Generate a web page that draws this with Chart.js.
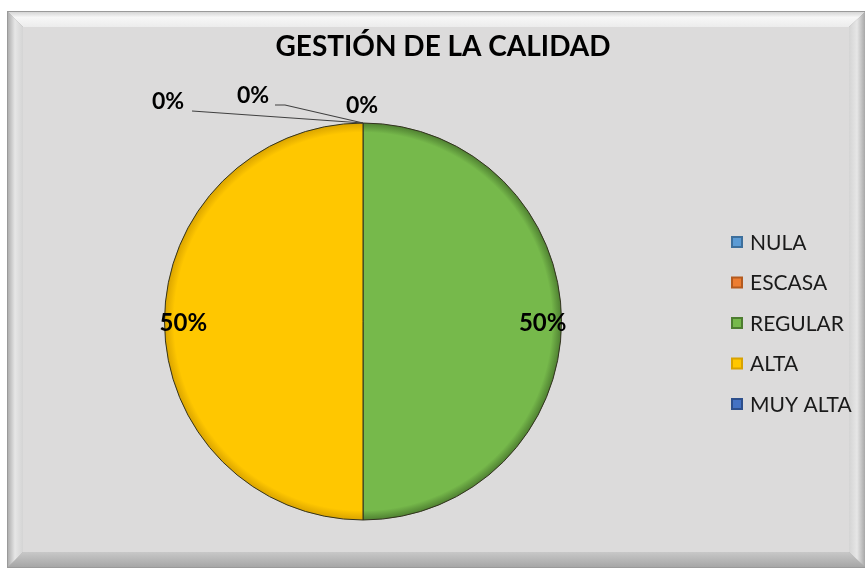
<!DOCTYPE html>
<html>
<head>
<meta charset="utf-8">
<script src="https://cdn.jsdelivr.net/npm/chart.js@4"></script>
<style>
  html, body { margin: 0; padding: 0; background: #fff; }
  #wrap { width: 865px; height: 571px; }
</style>
</head>
<body>
<div id="wrap"><canvas id="pieChart" width="865" height="571"></canvas></div>
<script>
// data
const chartTitle = 'GESTIÓN DE LA CALIDAD';
const categories = ['NULA', 'ESCASA', 'REGULAR', 'ALTA', 'MUY ALTA'];
const values = [0, 0, 50, 50, 0];
const colors = ['#5b9bd5', '#ed7d31', '#76b94b', '#ffc700', '#4472c4'];
const rimColors = ['#3d6f9c', '#b45a1e', '#4d7d30', '#d8a200', '#2d4f8c'];

const FONT = 'Lato, "Open Sans", sans-serif';

// beveled gray panel behind everything
const panelPlugin = {
    id: 'panel',
    beforeDraw(chart) {
        const ctx = chart.ctx;
        const x0 = 7, y0 = 11, x1 = 865, y1 = 568, b = 16;
        ctx.save();
        ctx.fillStyle = '#ffffff';
        ctx.fillRect(0, 0, chart.width, chart.height);
        ctx.fillStyle = '#9a9a9a';
        ctx.fillRect(x0, y0, x1 - x0, y1 - y0);
        // top bevel
        let g = ctx.createLinearGradient(0, y0, 0, y0 + b);
        g.addColorStop(0, '#cfcfcf');
        g.addColorStop(0.4, '#f7f7f7');
        g.addColorStop(1, '#ececec');
        ctx.fillStyle = g;
        ctx.beginPath();
        ctx.moveTo(x0 + 1, y0 + 1); ctx.lineTo(x1, y0 + 1); ctx.lineTo(x1 - b, y0 + b); ctx.lineTo(x0 + b, y0 + b);
        ctx.closePath(); ctx.fill();
        // bottom bevel
        g = ctx.createLinearGradient(0, y1 - b, 0, y1);
        g.addColorStop(0, '#c8c8c8');
        g.addColorStop(1, '#a4a4a4');
        ctx.fillStyle = g;
        ctx.beginPath();
        ctx.moveTo(x0 + 1, y1 - 1); ctx.lineTo(x1, y1 - 1); ctx.lineTo(x1 - b, y1 - b); ctx.lineTo(x0 + b, y1 - b);
        ctx.closePath(); ctx.fill();
        // left bevel
        g = ctx.createLinearGradient(x0, 0, x0 + b, 0);
        g.addColorStop(0, '#a8a8a8');
        g.addColorStop(0.5, '#e6e6e6');
        g.addColorStop(1, '#d4d4d4');
        ctx.fillStyle = g;
        ctx.beginPath();
        ctx.moveTo(x0 + 1, y0 + 1); ctx.lineTo(x0 + b, y0 + b); ctx.lineTo(x0 + b, y1 - b); ctx.lineTo(x0 + 1, y1 - 1);
        ctx.closePath(); ctx.fill();
        // right bevel
        g = ctx.createLinearGradient(x1 - b, 0, x1, 0);
        g.addColorStop(0, '#d4d4d4');
        g.addColorStop(0.5, '#e6e6e6');
        g.addColorStop(1, '#a8a8a8');
        ctx.fillStyle = g;
        ctx.beginPath();
        ctx.moveTo(x1, y0 + 1); ctx.lineTo(x1 - b, y0 + b); ctx.lineTo(x1 - b, y1 - b); ctx.lineTo(x1, y1 - 1);
        ctx.closePath(); ctx.fill();
        // face
        ctx.fillStyle = '#dcdbdb';
        ctx.fillRect(x0 + b, y0 + b, x1 - x0 - 2 * b, y1 - y0 - 2 * b);
        // title
        ctx.fillStyle = '#000';
        ctx.font = 'bold 28px ' + FONT;
        ctx.textAlign = 'center';
        ctx.textBaseline = 'middle';
        ctx.fillText(chartTitle, 443, 47);
        ctx.restore();
    }
};

// percent labels and legend beside the pie
const labelPlugin = {
    id: 'pieLabels',
    afterDatasetsDraw(chart) {
        const ctx = chart.ctx;
        const arcs = chart.getDatasetMeta(0).data;
        const total = values.reduce((a, b) => a + b, 0);
        ctx.save();
        ctx.fillStyle = '#000';
        ctx.textAlign = 'center';
        ctx.textBaseline = 'middle';
        let zeroIdx = 0;
        // zero slices all sit at the top, so their labels are pushed out with leaders
        const zeroOffsets = [
            { dx: -195, dy: -21, lx: -171, ly: -12, kink: 0 },
            { dx: -110, dy: -27, lx: -88, ly: -18, kink: 10 },
            { dx: -1, dy: -17, lx: null, ly: null, kink: 0 }
        ];
        arcs.forEach((arc, i) => {
            const pct = Math.round(values[i] / total * 100) + '%';
            const p = arc.getProps(['x', 'y', 'startAngle', 'endAngle', 'outerRadius']);
            if (values[i] === 0) {
                const o = zeroOffsets[zeroIdx++];
                const tipX = p.x + Math.cos(p.startAngle) * p.outerRadius;
                const tipY = p.y + Math.sin(p.startAngle) * p.outerRadius;
                ctx.font = 'bold 23px ' + FONT;
                ctx.fillText(pct, tipX + o.dx, tipY + o.dy);
                if (o.lx !== null) {
                    ctx.strokeStyle = '#404040';
                    ctx.lineWidth = 1.2;
                    ctx.beginPath();
                    ctx.moveTo(tipX + o.lx, tipY + o.ly);
                    ctx.lineTo(tipX + o.lx + o.kink, tipY + o.ly);
                    ctx.lineTo(tipX, tipY);
                    ctx.stroke();
                }
            } else {
                const mid = (p.startAngle + p.endAngle) / 2;
                const r = p.outerRadius * 0.905;
                ctx.font = 'bold 24px ' + FONT;
                ctx.fillText(pct, p.x + Math.cos(mid) * r, p.y + Math.sin(mid) * r + 2);
            }
        });
        // legend
        ctx.textAlign = 'left';
        ctx.font = '21px ' + FONT;
        categories.forEach((name, i) => {
            const y = 242 + i * 40.5;
            ctx.fillStyle = rimColors[i];
            ctx.fillRect(731, y - 6, 12, 12);
            ctx.fillStyle = colors[i];
            ctx.fillRect(733, y - 4, 8, 8);
            ctx.fillStyle = '#1a1a1a';
            ctx.fillText(name, 750, y + 1);
        });
        ctx.restore();
    }
};

function sliceFill(context) {
    const i = context.dataIndex;
    const chart = context.chart;
    const area = chart.chartArea;
    if (!area) return colors[i];
    const cx = (area.left + area.right) / 2;
    const cy = (area.top + area.bottom) / 2;
    const r = Math.min(area.right - area.left, area.bottom - area.top) / 2;
    const g = chart.ctx.createRadialGradient(cx, cy, 0, cx, cy, r);
    g.addColorStop(0, colors[i]);
    g.addColorStop(0.9, colors[i]);
    g.addColorStop(0.95, colors[i]);
    g.addColorStop(1, rimColors[i]);
    return g;
}

new Chart(document.getElementById('pieChart').getContext('2d'), {
    type: 'pie',
    data: {
        labels: categories,
        datasets: [{
            data: values,
            backgroundColor: sliceFill,
            borderColor: '#33331f',
            borderWidth: 1
        }]
    },
    options: {
        responsive: false,
        animation: false,
        layout: {
            padding: { left: 164, right: 303, top: 122, bottom: 50 }
        },
        plugins: {
            legend: { display: false },
            title: { display: false },
            tooltip: { enabled: false }
        }
    },
    plugins: [panelPlugin, labelPlugin]
});
</script>
</body>
</html>
